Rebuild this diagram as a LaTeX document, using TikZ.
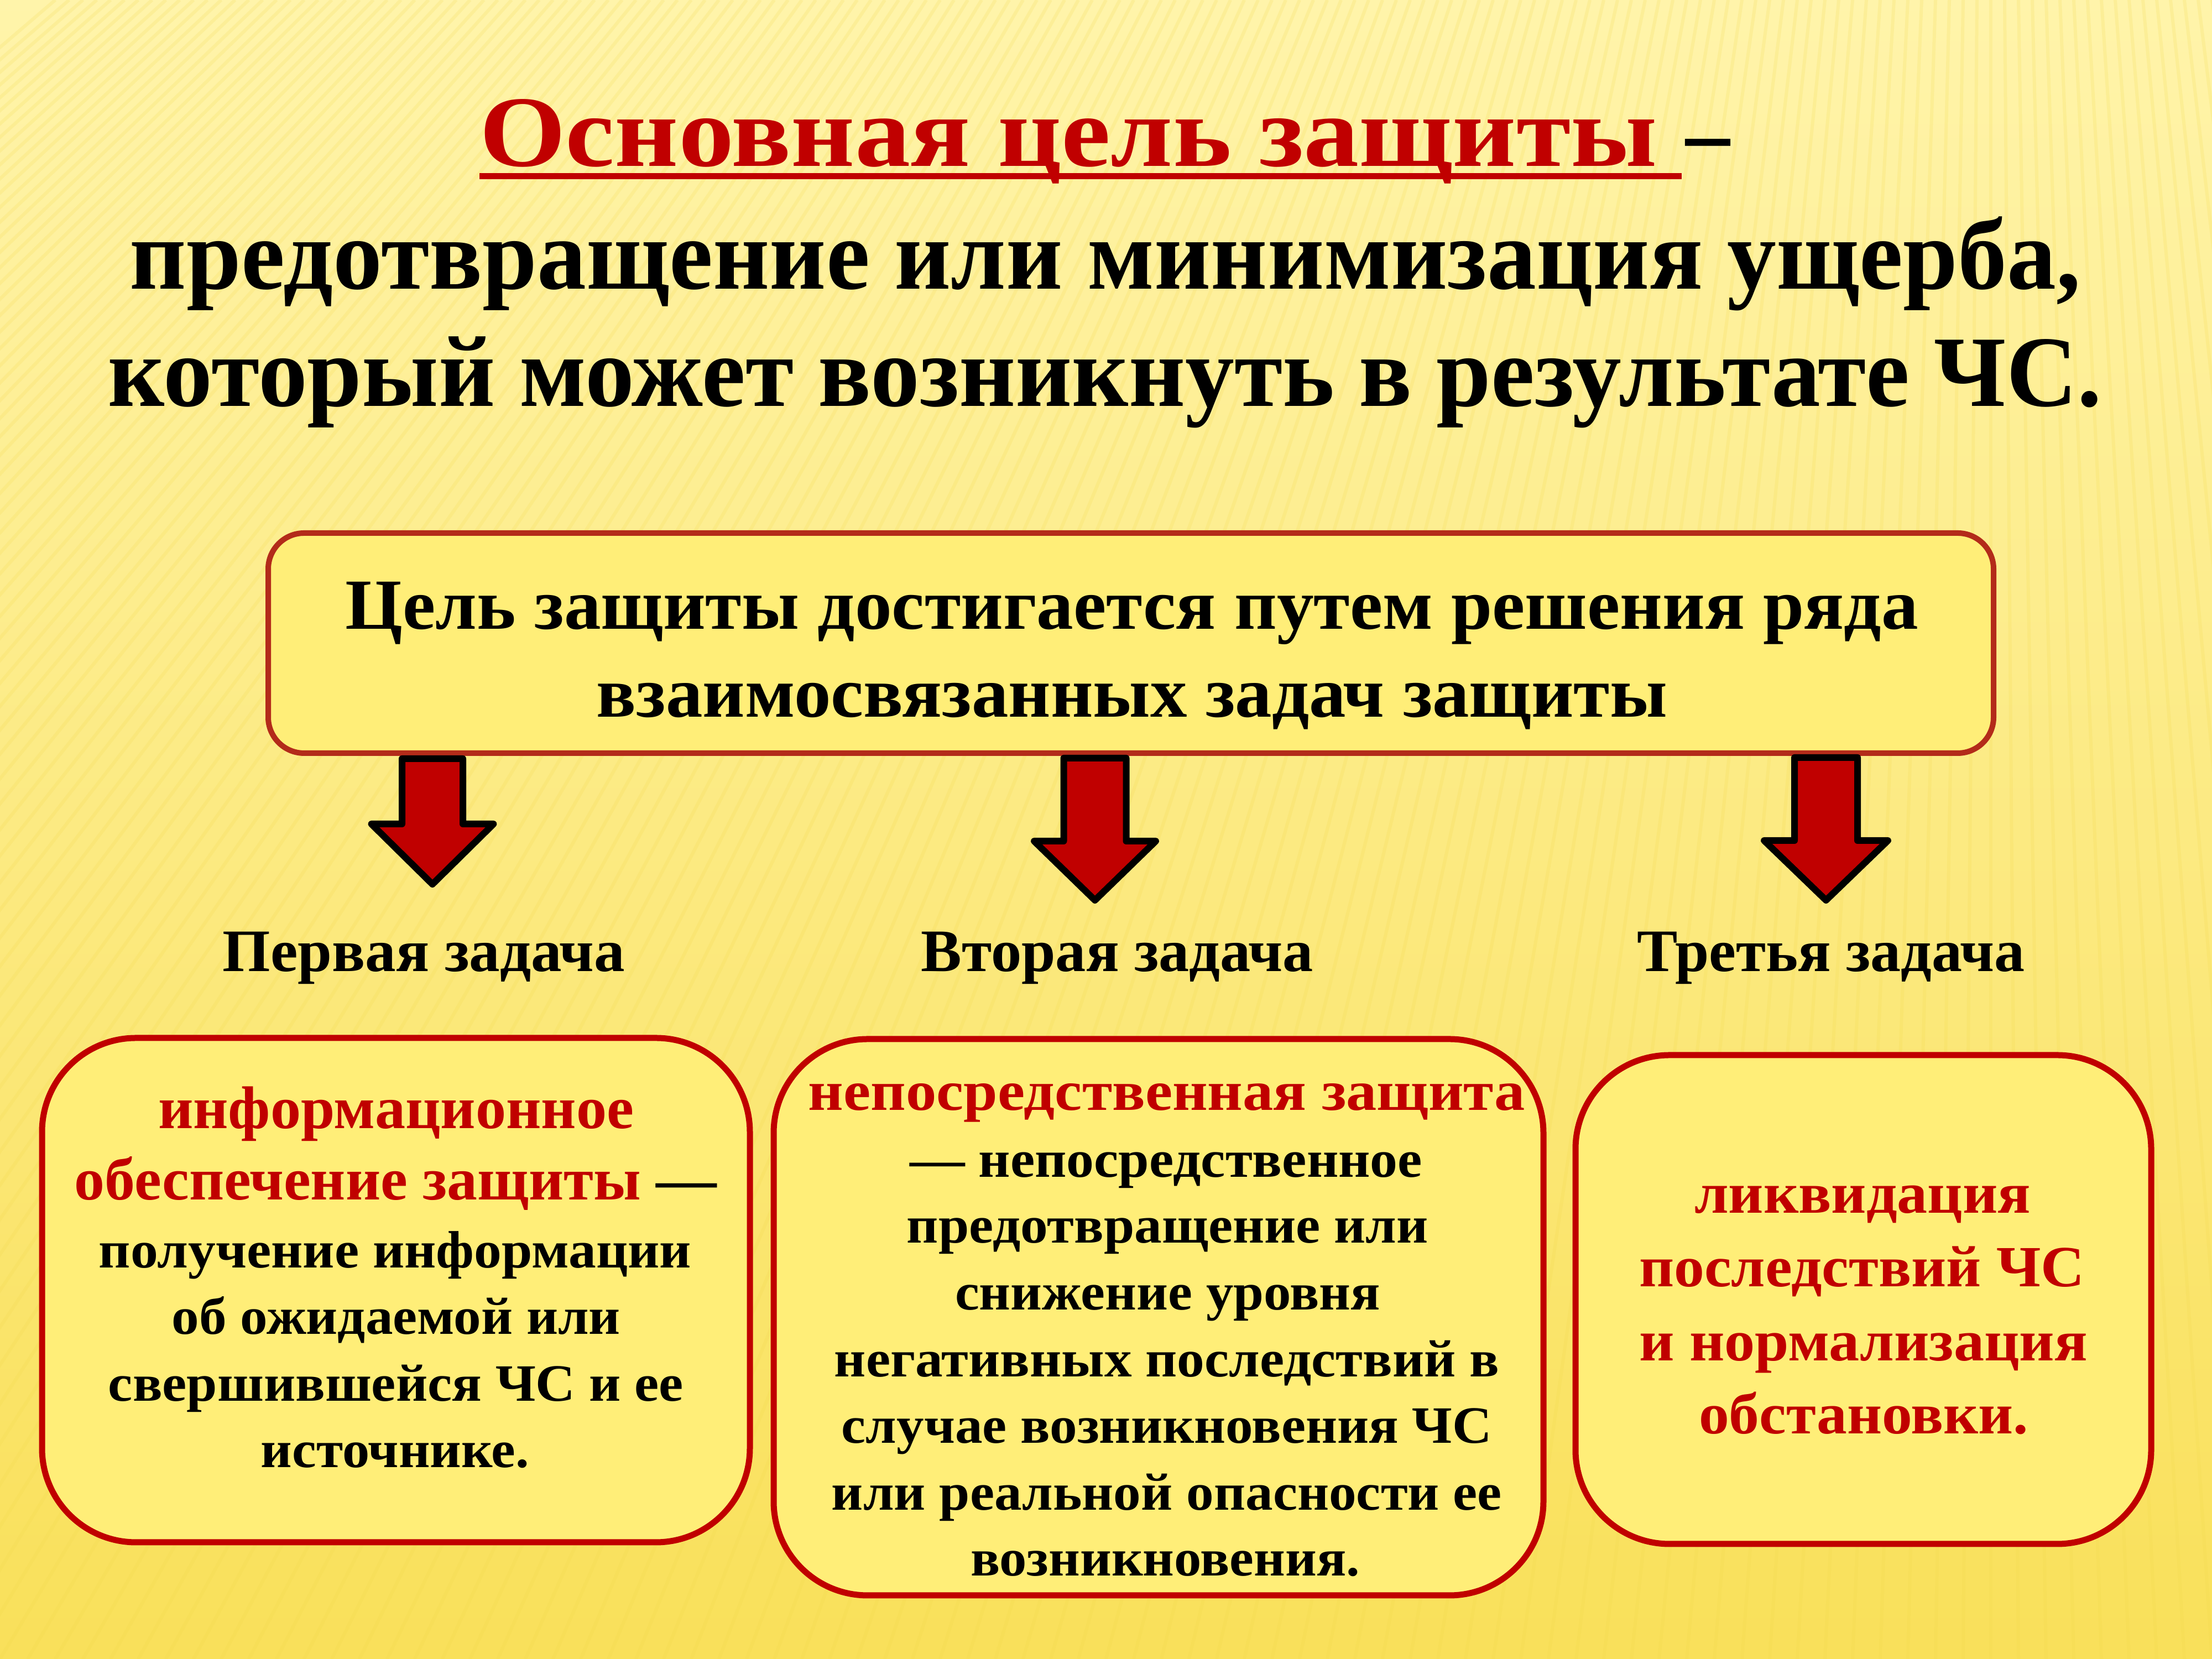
\documentclass[tikz,border=0pt]{standalone}
\usepackage{fontspec}
\setmainfont{Liberation Serif}
\usepackage{graphicx}
\definecolor{titlered}{HTML}{C00000}
\definecolor{mainborder}{HTML}{B32B1A}
\definecolor{boxfill}{HTML}{FFEE78}
\definecolor{bgtop}{HTML}{FFF4AA}
\definecolor{bgbot}{HTML}{F9E05A}
\definecolor{stripe}{HTML}{F3D84A}
\newcommand\fitline[2]{\resizebox{#1}{\height}{#2}}
\newcommand\fttitle{\fontsize{52pt}{60pt}\selectfont\bfseries}
\newcommand\ftmain{\fontsize{37pt}{44pt}\selectfont\bfseries}
\newcommand\ftlabel{\fontsize{31pt}{36pt}\selectfont\bfseries}
\newcommand\ftblack{\fontsize{27pt}{32pt}\selectfont\bfseries}
\newcommand\ftredA{\fontsize{31pt}{36pt}\selectfont\bfseries}
\newcommand\ftredB{\fontsize{29pt}{34pt}\selectfont\bfseries}
\newcommand\ftredC{\fontsize{30pt}{34pt}\selectfont\bfseries}
\newcommand\blockarr[6]{%
  \draw[blockarrow] (#1-#5,#2) -- (#1+#5,#2) -- (#1+#5,#3) -- (#1+#6,#3) -- (#1,#4) -- (#1-#6,#3) -- (#1-#5,#3) -- cycle;}
\begin{document}
\begin{tikzpicture}[x=1cm,y=1cm,
  txt/.style={inner sep=0pt, outer sep=0pt, anchor=base},
  tblk/.style={txt, text=black},
  tred/.style={txt, text=titlered},
  bigbox/.style={draw=mainborder, line width=0.1cm, fill=boxfill, rounded corners=0.65cm, inner sep=0pt},
  taskbox/.style={draw=titlered, line width=0.11cm, fill=boxfill, rounded corners=1.7cm, inner sep=0pt},
  blockarrow/.style={draw=black, line width=0.12cm, line join=round, fill=titlered}]
% background
\useasboundingbox (0,0) rectangle (40,30);
\shade[top color=bgtop, bottom color=bgbot] (0,0) rectangle (40,30);
\begin{scope}
\clip (0,0) rectangle (40,30);
\foreach \i in {-34,-33.5,...,44} {
  \draw[stripe, line width=0.06cm, opacity=0.18] (\i,0) -- ({18+0.5*\i},30);
}
\end{scope}
% title
\node[tred] (t1) at (8.67,26.99) [anchor=base west] {\fitline{21.30cm}{\fttitle Основная цель защиты}};
\fill[titlered] (8.67,26.76) rectangle (30.41,26.87);
\node[tblk] (t1d) at (30.48,26.99) [anchor=base west] {\fitline{0.80cm}{\fttitle –}};
\node[tblk] (t2) at (19.99,24.77) {\fitline{35.28cm}{\fttitle предотвращение или минимизация ущерба,}};
\node[tblk] (t3) at (19.985,22.65) {\fitline{36.05cm}{\fttitle который может возникнуть в результате ЧС.}};
% main box
\node[bigbox, minimum width=31.2cm, minimum height=3.98cm] (goal) at (20.45,18.37) {};
\node[tblk] (g1) at (20.47,18.62) {\fitline{28.44cm}{\ftmain Цель защиты достигается путем решения ряда}};
\node[tblk] (g2) at (20.47,17.03) {\fitline{19.36cm}{\ftmain взаимосвязанных задач защиты}};
% arrows
\blockarr{7.82}{16.28}{15.10}{14.01}{0.55}{1.105}
\blockarr{19.80}{16.29}{14.79}{13.72}{0.565}{1.10}
\blockarr{33.02}{16.30}{14.80}{13.72}{0.57}{1.12}
% labels
\node[tblk] (l1) at (7.665,12.43) {\fitline{7.27cm}{\ftlabel Первая задача}};
\node[tblk] (l2) at (20.205,12.43) {\fitline{7.09cm}{\ftlabel Вторая задача}};
\node[tblk] (l3) at (33.105,12.43) {\fitline{7.01cm}{\ftlabel Третья задача}};
% task boxes
\node[taskbox, minimum width=12.80cm, minimum height=9.12cm] (b1) at (7.16,6.67) {};
\node[taskbox, minimum width=13.92cm, minimum height=10.06cm] (b2) at (20.95,6.18) {};
\node[taskbox, minimum width=10.41cm, minimum height=8.84cm] (b3) at (33.695,6.50) {};
% box 1 text
\node[tred] (a1) at (7.16,9.59) {\fitline{8.60cm}{\ftredA информационное}};
\node[tred] (a2) at (7.155,8.30) {\fitline{11.61cm}{\ftredA обеспечение защиты \textcolor{black}{—}}};
\node[tblk] (a3) at (7.145,7.07) {\fitline{10.71cm}{\ftblack получение информации}};
\node[tblk] (a4) at (7.165,5.87) {\fitline{8.11cm}{\ftblack об ожидаемой или}};
\node[tblk] (a5) at (7.16,4.66) {\fitline{10.40cm}{\ftblack свершившейся ЧС и ее}};
\node[tblk] (a6) at (7.145,3.46) {\fitline{4.85cm}{\ftblack источнике.}};
% box 2 text
\node[tred] (c1) at (21.10,9.92) {\fitline{12.96cm}{\ftredB непосредственная защита}};
\node[tblk] (c2) at (21.085,8.71) {\fitline{9.27cm}{\ftblack — непосредственное}};
\node[tblk] (c3) at (21.115,7.52) {\fitline{9.43cm}{\ftblack предотвращение или}};
\node[tblk] (c4) at (21.115,6.31) {\fitline{7.69cm}{\ftblack снижение уровня}};
\node[tblk] (c5) at (21.10,5.10) {\fitline{12.02cm}{\ftblack негативных последствий в}};
\node[tblk] (c6) at (21.10,3.90) {\fitline{11.76cm}{\ftblack случае возникновения ЧС}};
\node[tblk] (c7) at (21.10,2.69) {\fitline{12.12cm}{\ftblack или реальной опасности ее}};
\node[tblk] (c8) at (21.07,1.50) {\fitline{7.04cm}{\ftblack возникновения.}};
% box 3 text
\node[tred] (d1) at (33.68,8.06) {\fitline{6.08cm}{\ftredC ликвидация}};
\node[tred] (d2) at (33.67,6.73) {\fitline{8.06cm}{\ftredC последствий ЧС}};
\node[tred] (d3) at (33.695,5.39) {\fitline{8.11cm}{\ftredC и нормализация}};
\node[tred] (d4) at (33.70,4.07) {\fitline{5.96cm}{\ftredC обстановки.}};
\end{tikzpicture}
\end{document}
